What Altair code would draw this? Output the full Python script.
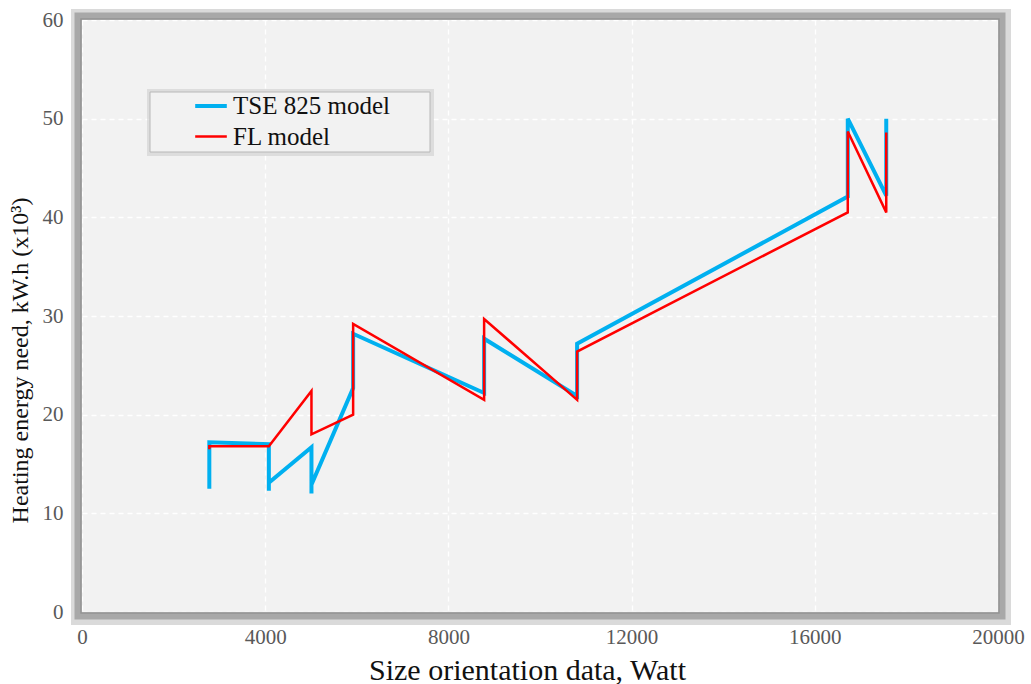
import altair as alt
import pandas as pd

# Heating energy need (x10^3 kW.h) against size orientation data (Watt)
tse_x = [2780, 2780, 4080, 4080, 4080, 5010, 5010, 5010, 5920, 5920, 8780, 8780,
         10810, 10810, 16720, 16720, 17560, 17560]
tse_y = [12.5, 17.2, 17.0, 12.3, 13.1, 16.7, 12.0, 12.9, 22.7, 28.2, 22.2, 27.7,
         21.9, 27.2, 42.1, 50.0, 42.2, 50.0]

fl_x = [2780, 2780, 4080, 5010, 5010, 5920, 5920, 8780, 8780, 10810, 10810,
        16720, 16720, 17560, 17560]
fl_y = [16.5, 16.8, 16.8, 22.4, 18.0, 20.0, 29.2, 21.5, 29.7, 21.5, 26.4,
        40.5, 48.7, 40.5, 48.6]

series = ["TSE 825 model", "FL model"]
colors = ["#00b0f0", "#ff0000"]
widths = [4.0, 2.5]

x_ticks = [0, 4000, 8000, 12000, 16000, 20000]
y_ticks = [0, 10, 20, 30, 40, 50, 60]

rows = []
for i, (xv, yv) in enumerate(zip(tse_x, tse_y)):
    rows.append({"model": series[0], "x": xv, "y": yv, "seq": i})
for i, (xv, yv) in enumerate(zip(fl_x, fl_y)):
    rows.append({"model": series[1], "x": xv, "y": yv, "seq": i})
df = pd.DataFrame(rows)

FONT = "Liberation Serif"
W, H = 916, 592
one = pd.DataFrame({"a": [0]})


def box(x0, x1, y0, y1, **kw):
    return alt.Chart(one).mark_rect(clip=False, **kw).encode(
        x=alt.value(x0), x2=alt.value(x1), y=alt.value(y0), y2=alt.value(y1)
    )


# grey shaded frame around the plot area
frame_outer = box(-8, W + 10, -8, H + 10, filled=False, stroke="#dadada", strokeWidth=6)
frame_inner = box(-4, W + 4, -4, H + 4, filled=False, stroke="#a8a8a8", strokeWidth=7)
frame_edge = box(-1, W + 1, -1, H + 1, filled=False, stroke="#939393", strokeWidth=1.5)

# legend panel with a soft shadow
leg_shadow = box(67, 350, 71, 134, filled=False, stroke="#cfcfcf", strokeWidth=4, opacity=0.6)
leg_panel = box(68, 348, 72, 132, fill="#f2f2f2", stroke="#b8b8b8", strokeWidth=1)

lines = alt.Chart(df).mark_line(strokeJoin="miter", clip=True).encode(
    x=alt.X("x:Q", scale=alt.Scale(domain=[0, 20000], nice=False),
            axis=alt.Axis(values=x_ticks, format="d", labelFlush=False,
                          title="Size orientation data, Watt",
                          labelPadding=14, titlePadding=8, titleFontSize=30,
                          titleX=445)),
    y=alt.Y("y:Q", scale=alt.Scale(domain=[0, 60], nice=False),
            axis=alt.Axis(values=y_ticks, labelFlush=False,
                          title="Heating energy need, kW.h (x10\u00b3)",
                          labelPadding=19, titlePadding=10, titleFontSize=24,
                          titleY=340)),
    color=alt.Color("model:N", scale=alt.Scale(domain=series, range=colors),
                    title=None,
                    legend=alt.Legend(orient="none", legendX=111, legendY=68)),
    strokeWidth=alt.StrokeWidth("model:N",
                                scale=alt.Scale(domain=series, range=widths),
                                title=None,
                                legend=alt.Legend(orient="none", legendX=111, legendY=68)),
    order="seq:Q",
)

chart = alt.layer(frame_outer, frame_inner, frame_edge, leg_shadow, leg_panel, lines).properties(
    width=W, height=H,
    autosize=alt.AutoSizeParams(type="none"),
    padding={"left": 82, "top": 20, "right": 33, "bottom": 72},
).configure_view(
    fill="#f2f2f2", stroke=None
).configure_axis(
    grid=True, gridColor="#ffffff", gridDash=[5, 4], gridWidth=1.3,
    domain=False, ticks=False,
    labelFont=FONT, labelFontSize=21, labelColor="#595959",
    titleFont=FONT, titleColor="#111111", titleFontWeight="normal",
).configure_legend(
    labelFont=FONT, labelFontSize=25, labelColor="#111111",
    symbolType="stroke", symbolSize=1000,
    padding=0, rowPadding=0, labelOffset=4, labelLimit=400,
)

chart.save("out.html", embed_options={"renderer": "svg", "actions": False})
